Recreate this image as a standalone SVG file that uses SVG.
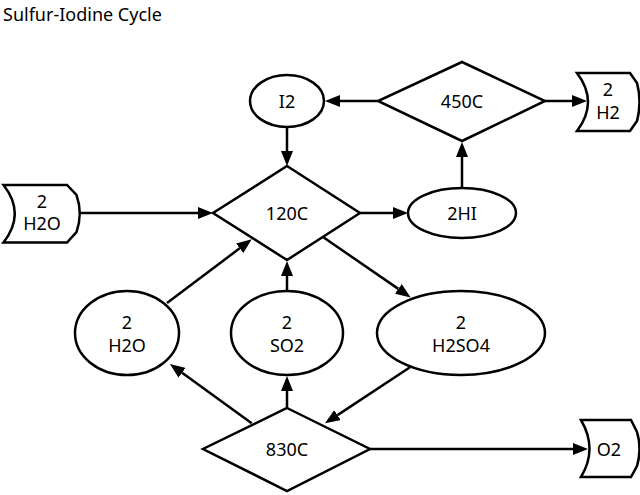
<svg xmlns="http://www.w3.org/2000/svg" width="640" height="495" viewBox="0 0 640 495">
<style>
.n{fill:#fff;stroke:#000;stroke-width:2.5;stroke-linejoin:miter}
.t{font-family:"Noto Sans","DejaVu Sans",sans-serif;font-size:18px;fill:#000;text-anchor:middle}
.e{stroke:#000;stroke-width:2.5;fill:none}
</style>
<defs>
<marker id="a" markerUnits="userSpaceOnUse" viewBox="0 0 15 12" refX="0" refY="6" markerWidth="15" markerHeight="12" orient="auto">
<path d="M0,0 L15,6 L0,12 z" fill="#000"/>
</marker>
</defs>
<rect width="640" height="495" fill="#fff"/>
<text x="3" y="21" font-family="Noto Sans, DejaVu Sans, sans-serif" font-size="18">Sulfur-Iodine Cycle</text>
<g id="edges">
<line class="e" x1="378" y1="101" x2="340" y2="101" marker-end="url(#a)"/>
<line class="e" x1="545" y1="101" x2="572" y2="101" marker-end="url(#a)"/>
<line class="e" x1="462" y1="188" x2="462" y2="157" marker-end="url(#a)"/>
<line class="e" x1="287" y1="127" x2="287" y2="151" marker-end="url(#a)"/>
<line class="e" x1="80" y1="213" x2="198" y2="213" marker-end="url(#a)"/>
<line class="e" x1="360" y1="213" x2="393" y2="213" marker-end="url(#a)"/>
<line class="e" x1="323" y1="237" x2="398.3" y2="288.9" marker-end="url(#a)"/>
<line class="e" x1="167" y1="303" x2="239.7" y2="248.3" marker-end="url(#a)"/>
<line class="e" x1="287" y1="291" x2="287" y2="276" marker-end="url(#a)"/>
<line class="e" x1="251.7" y1="423.3" x2="182.1" y2="372.8" marker-end="url(#a)"/>
<line class="e" x1="287" y1="408" x2="287" y2="391" marker-end="url(#a)"/>
<line class="e" x1="410" y1="367.3" x2="337.5" y2="415.1" marker-end="url(#a)"/>
<line class="e" x1="370" y1="449" x2="573" y2="449" marker-end="url(#a)"/>
</g>
<g id="I2">
<ellipse class="n" cx="287" cy="101" rx="37" ry="26"/>
<text class="t" x="287" y="107.5">I2</text>
</g>
<g id="T450C">
<polygon class="n" points="462,62 545,101 462,141 378,101"/>
<text class="t" x="462" y="107.5">450C</text>
</g>
<g id="H2">
<path class="n" d="M577,73 L630,73 L637,83 Q642,102 637,121 L630,131 L577,131 Q599,102 577,73 Z"/>
<text class="t" x="608" y="96">2</text>
<text class="t" x="608" y="119">H2</text>
</g>
<g id="T120C">
<polygon class="n" points="287,166 360,213 287,260 213,213"/>
<text class="t" x="287" y="219.5">120C</text>
</g>
<g id="HI">
<ellipse class="n" cx="462" cy="213" rx="54" ry="25"/>
<text class="t" x="462" y="219.5">2HI</text>
</g>
<g id="H2Oin">
<path class="n" d="M3.5,185 L67,185 L76.5,195 Q83,213.5 76.5,232 L67,242.5 L3.5,242.5 Q26,213.5 3.5,185 Z"/>
<text class="t" x="42" y="207.5">2</text>
<text class="t" x="42" y="230">H2O</text>
</g>
<g id="H2O">
<ellipse class="n" cx="127" cy="333" rx="52" ry="42"/>
<text class="t" x="127" y="328.5">2</text>
<text class="t" x="127" y="351.5">H2O</text>
</g>
<g id="SO2">
<ellipse class="n" cx="287" cy="333" rx="56" ry="42"/>
<text class="t" x="287" y="328.5">2</text>
<text class="t" x="287" y="351.5">SO2</text>
</g>
<g id="H2SO4">
<ellipse class="n" cx="461" cy="333" rx="84" ry="42"/>
<text class="t" x="461" y="328.5">2</text>
<text class="t" x="461" y="351.5">H2SO4</text>
</g>
<g id="T830C">
<polygon class="n" points="287,408 370,449 287,491 203,449"/>
<text class="t" x="287" y="455.5">830C</text>
</g>
<g id="O2">
<path class="n" d="M581,420 L631,420 L637,432 Q642,449 637,466 L631,477 L581,477 Q598,449 581,420 Z"/>
<text class="t" x="609" y="455.5">O2</text>
</g>
</svg>
